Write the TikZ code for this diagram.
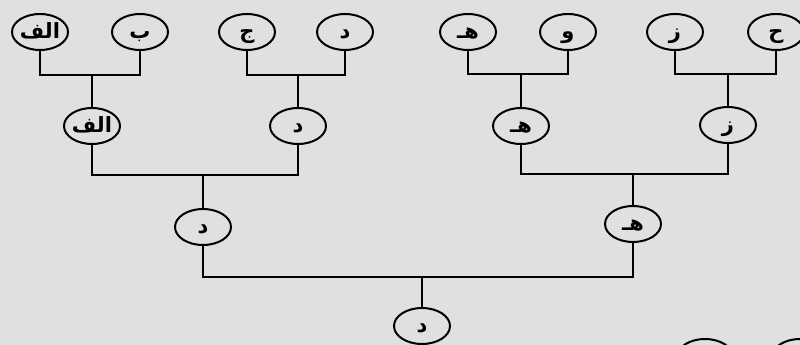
\documentclass[tikz,border=0pt]{standalone}
\usepackage{fontspec}
\newfontfamily\arabicfont[Script=Arabic]{DejaVu Sans}
\TeXXeTstate=1
\usetikzlibrary{shapes.geometric}
\definecolor{paper}{RGB}{224,224,227}
\newcommand{\harf}[1]{\raisebox{-6pt}[0pt][0pt]{\makebox[0pt]{\arabicfont\bfseries\fontsize{21}{21}\selectfont\beginR #1\endR}}}

\begin{document}
\begin{tikzpicture}[x=1pt, y=-1pt, line width=2.2pt,
	team/.style={draw, ellipse, line width=2pt, minimum width=56pt, minimum height=36pt, inner sep=0pt}]
	\fill[paper] (0,0) rectangle (800,345);
	\clip (0,0) rectangle (800,345);
	% first round
	\node[team] (a1) at (40,32) {\harf{الف}};
	\node[team] (a2) at (140,32) {\harf{ب}};
	\node[team] (a3) at (247,32) {\harf{ج}};
	\node[team] (a4) at (345,32) {\harf{د}};
	\node[team] (a5) at (468,32) {\harf{هـ}};
	\node[team] (a6) at (568,32) {\harf{و}};
	\node[team] (a7) at (675,32) {\harf{ز}};
	\node[team] (a8) at (776,32) {\harf{ح}};
	% second round
	\node[team] (b1) at (92,126) {\harf{الف}};
	\node[team] (b2) at (298,126) {\harf{د}};
	\node[team] (b3) at (521,126) {\harf{هـ}};
	\node[team] (b4) at (728,125) {\harf{ز}};
	% semi final and final
	\node[team] (c1) at (203,227) {\harf{د}};
	\node[team] (c2) at (633,224) {\harf{هـ}};
	\node[team] (d1) at (422,326) {\harf{د}};
	% next picture, cut by the edge
	\node[team] (e1) at (705,357) {};
	\node[team] (e2) at (800,357) {};
	% joints
	\coordinate (j1) at (92,75);
	\coordinate (j2) at (298,75);
	\coordinate (j3) at (521,74);
	\coordinate (j4) at (728,74);
	\coordinate (k1) at (203,175);
	\coordinate (k2) at (633,174);
	\coordinate (m1) at (422,277);
	\draw (a1) |- (j1) -| (a2);
	\draw (a3) |- (j2) -| (a4);
	\draw (a5) |- (j3) -| (a6);
	\draw (a7) |- (j4) -| (a8);
	\draw (j1) -- (b1);
	\draw (j2) -- (b2);
	\draw (j3) -- (b3);
	\draw (j4) -- (b4);
	\draw (b1) |- (k1) -| (b2);
	\draw (b3) |- (k2) -| (b4);
	\draw (k1) -- (c1);
	\draw (k2) -- (c2);
	\draw (c1) |- (m1) -| (c2);
	\draw (m1) -- (d1);
\end{tikzpicture}
\end{document}
